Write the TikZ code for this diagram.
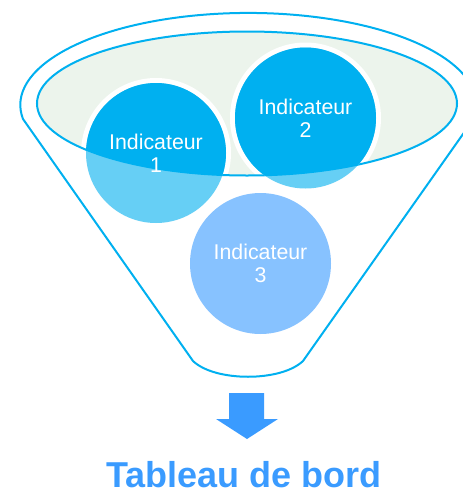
\documentclass[tikz,border=0pt]{standalone}
\usepackage{fontspec}
\setmainfont{Liberation Sans}
\definecolor{funnelblue}{RGB}{0,176,240}
\definecolor{glassgreen}{RGB}{236,244,236}
\definecolor{balllight}{RGB}{102,207,245}
\definecolor{ballthree}{RGB}{135,194,255}
\definecolor{boardblue}{RGB}{58,155,255}
\tikzset{every picture/.style={line width=0.75pt}}

\begin{document}
\begin{tikzpicture}[x=0.75pt,y=0.75pt,yscale=-1,xscale=1]
\useasboundingbox (0,0) rectangle (462,494);

%Shape: Funnel outline
\draw [color=funnelblue, line width=1.5] (23,119) arc (171.2:368.8:228 and 92) -- (303,361) .. controls (281,382) and (215,382) .. (193,361) -- cycle ;
%Shape: Ellipse (glass)
\fill [color=white] (247,103.5) ellipse (212 and 74) ;
\fill [color=glassgreen] (247,103.5) ellipse (210 and 72) ;
%Shape: Circle rings
\fill [color=white] (156,153) circle (75) ;
\fill [color=white] (305.5,118) circle (75.5) ;
\draw [color=funnelblue, line width=1.5] (247,103.5) ellipse (210 and 72) ;
%Shape: Circle
\fill [color=balllight] (156,153) circle (70) ;
%Shape: Circle
\fill [color=balllight] (305.5,118) circle (70.5) ;
%Shape: Circle
\fill [color=ballthree] (260.5,263.5) circle (70.5) ;
%Shape: Circle parts inside the glass
\begin{scope}
\clip (247,103.5) ellipse (211 and 73) ;
\fill [color=funnelblue] (156,153) circle (70) ;
\fill [color=funnelblue] (305.5,118) circle (70.5) ;
\end{scope}
%Shape: Down Arrow
\fill [color=boardblue] (229,393) -- (264,393) -- (264,419) -- (278,419) -- (247,439) -- (216,419) -- (229,419) -- cycle ;

% Text Node
\node (ind1) at (156,153) [inner sep=0.75pt, align=center, text=white, font=\fontsize{16}{17.25}\selectfont] {Indicateur\\1};
% Text Node
\node (ind2) at (305.5,118) [inner sep=0.75pt, align=center, text=white, font=\fontsize{16}{17.25}\selectfont] {Indicateur\\2};
% Text Node
\node (ind3) at (260.5,263.5) [inner sep=0.75pt, align=center, text=white, font=\fontsize{16}{17.25}\selectfont] {Indicateur\\3};
% Text Node
\node (board) at (244,487) [anchor=base, inner sep=0.75pt, text=boardblue, font=\fontsize{27}{30}\selectfont\bfseries] {Tableau de bord};

\end{tikzpicture}
\end{document}
